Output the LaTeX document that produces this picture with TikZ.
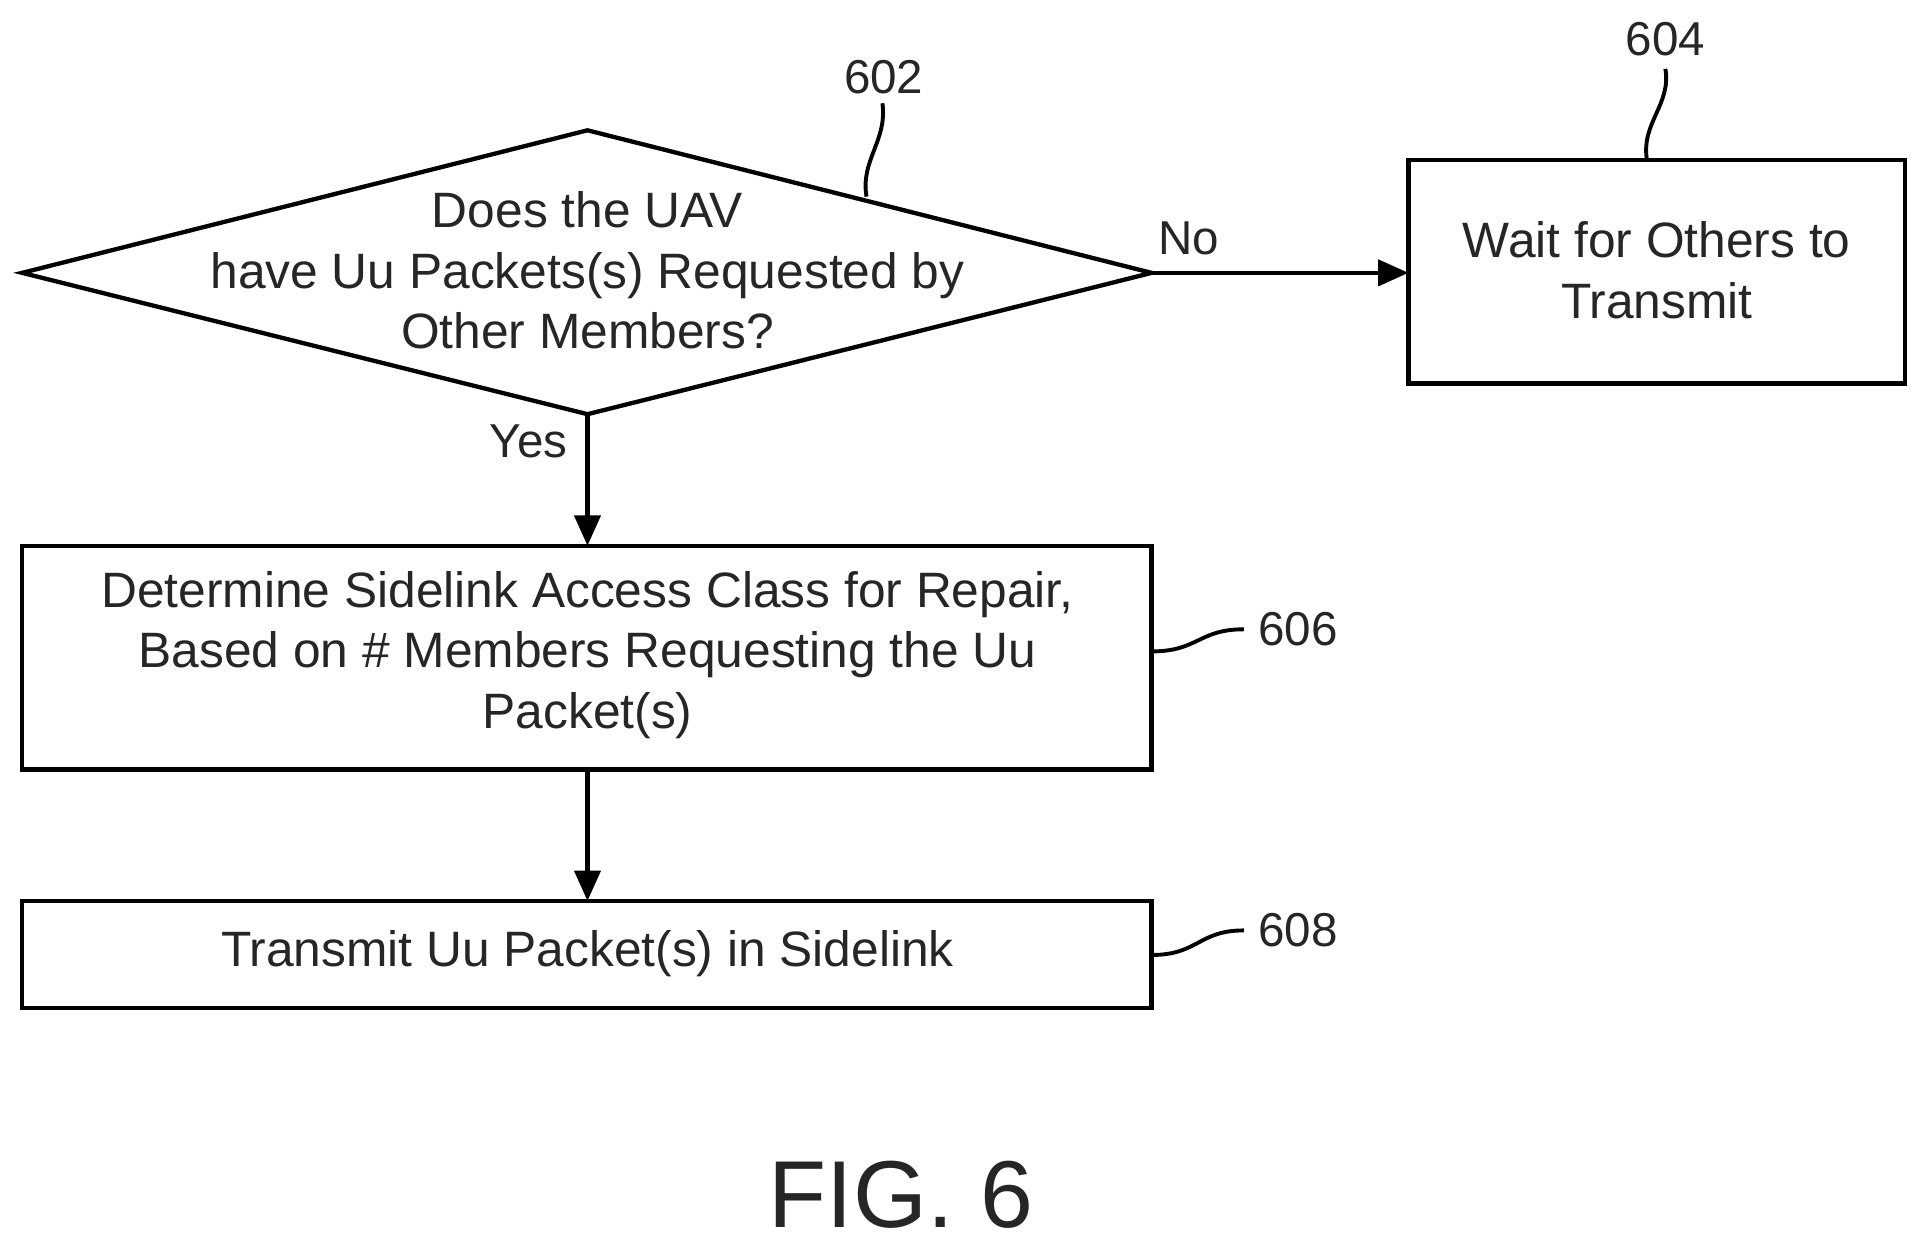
\documentclass[tikz,border=0pt]{standalone}
\usepackage{fontspec}
\setmainfont{Liberation Sans}
\usetikzlibrary{arrows.meta}
\begin{document}
\begin{tikzpicture}[x=0.01cm,y=-0.01cm,
  box/.style={draw,line width=1pt},
  arr/.style={line width=1pt,-{Triangle[length=7pt,width=6pt]}},
  lead/.style={line width=0.9pt},
  txt/.style={font=\fontsize{11.5}{14}\selectfont,align=center,text=black!85},
  lbl/.style={font=\fontsize{11}{14}\selectfont,text=black!85}]
\useasboundingbox (0,0) rectangle (1563,1017);
\draw[box] (18,222) -- (478,106) -- (937,222) -- (478,337) -- cycle;
\coordinate (dr) at (937,222); \coordinate (db) at (478,337);
\node[txt] (d) at (478,220) {Does the UAV\\have Uu Packets(s) Requested by\\Other Members?};
\draw[box] (1146,130) rectangle (1550,312);
\coordinate (b604w) at (1146,222);
\node[txt] (t604) at (1348,220) {Wait for Others to\\Transmit};
\draw[box] (18,444) rectangle (937,626);
\coordinate (b606n) at (478,444); \coordinate (b606s) at (478,626);
\node[txt] (t606) at (478,533) {Determine Sidelink Access Class for Repair,\\Based on \# Members Requesting the Uu\\Packet(s)};
\draw[box] (18,733) rectangle (937,820);
\coordinate (b608n) at (478,733);
\node[txt] (t608) at (478,776) {Transmit Uu Packet(s) in Sidelink};
\draw[arr] (dr) -- (b604w);
\draw[arr] (db) -- (b606n);
\draw[arr] (b606s) -- (b608n);
\node[lbl] (no) at (967,194) {No};
\node[lbl] (yes) at (430,359) {Yes};
\node[lbl] (l602) at (719,63) {602};
\node[lbl] (l604) at (1355,32) {604};
\node[lbl] (l606) at (1056,512) {606};
\node[lbl] (l608) at (1056,757) {608};
\draw[lead] (705,160) .. controls (700,130) and (722,115) .. (718,84);
\draw[lead] (1340,130) .. controls (1335,100) and (1360,85) .. (1355,56);
\draw[lead] (937,530) .. controls (975,530) and (975,512) .. (1012,512);
\draw[lead] (937,777) .. controls (975,777) and (975,757) .. (1012,757);
\node[font=\fontsize{22}{26}\selectfont,text=black!85] (fig) at (733,972) {FIG. 6};
\end{tikzpicture}
\end{document}
